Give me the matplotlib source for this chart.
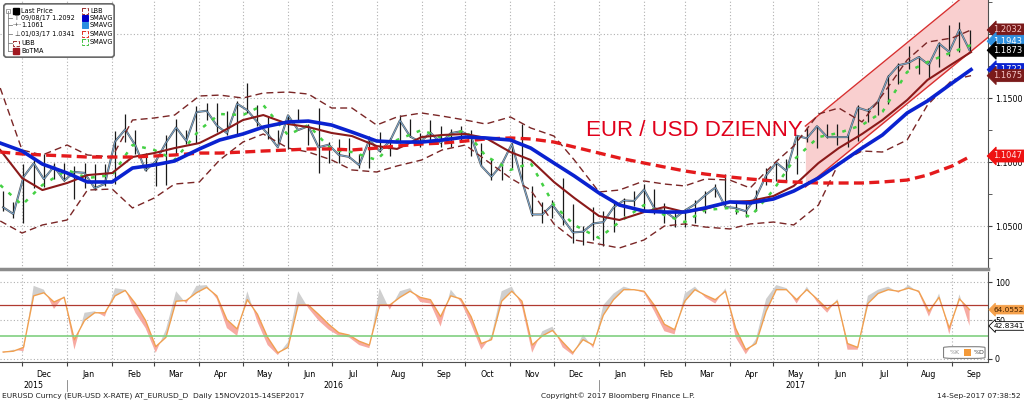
import matplotlib
matplotlib.use("Agg")
import matplotlib.pyplot as plt
import matplotlib.dates as mdates
from matplotlib.patches import FancyBboxPatch, Rectangle
from matplotlib.lines import Line2D
from matplotlib.ticker import MultipleLocator, FixedLocator, NullFormatter, FormatStrFormatter
import numpy as np
import pandas as pd

plt.rcParams['font.family'] = ['DejaVu Sans']

# ---- weekly price bars (one point per week, middle of week) ----
week_dates = pd.date_range('2015-11-18', '2017-09-13', freq='W-WED')
week_high = [1.0770, 1.0690, 1.0981, 1.1043, 1.1060, 1.0990, 1.0990,
             1.0970, 1.0990, 1.0985, 1.0985, 1.1240, 1.1376, 1.1250, 1.1070, 1.1020,
             1.1215, 1.1340, 1.1250, 1.1440, 1.1460, 1.1465, 1.1400, 1.1475, 1.1616,
             1.1445, 1.1350, 1.1250, 1.1370, 1.1415, 1.1300, 1.1425, 1.1160, 1.1180,
             1.1185, 1.1065, 1.1200, 1.1235, 1.1185, 1.1365, 1.1340, 1.1225, 1.1325,
             1.1285, 1.1255, 1.1280, 1.1250, 1.1145, 1.1025, 1.0985, 1.1145, 1.1300,
             1.0810, 1.0690, 1.0700, 1.0875, 1.0670, 1.0500, 1.0650,
             1.0620, 1.0685, 1.0720, 1.0775, 1.0830, 1.0790, 1.0680, 1.0630, 1.0630,
             1.0700, 1.0770, 1.0825, 1.0905, 1.0690, 1.0680, 1.0780, 1.0950, 1.0995,
             1.1020, 1.1210, 1.1268, 1.1285, 1.1295, 1.1295, 1.1220, 1.1445, 1.1425,
             1.1490, 1.1680, 1.1775, 1.1910, 1.1830, 1.1790, 1.1940, 1.2070, 1.2092,
             1.2035]
week_low = [1.0617, 1.0565, 1.0524, 1.0797, 1.0805, 1.0870, 1.0850,
            1.0710, 1.0800, 1.0780, 1.0810, 1.0830, 1.1160, 1.1060, 1.0930, 1.0810,
            1.0820, 1.1060, 1.1140, 1.1145, 1.1330, 1.1235, 1.1215, 1.1215, 1.1385,
            1.1285, 1.1180, 1.1130, 1.1100, 1.1310, 1.1130, 1.0912, 1.0990, 1.0990,
            1.1030, 1.0950, 1.0950, 1.1080, 1.1050, 1.1150, 1.1195, 1.1120, 1.1150,
            1.1120, 1.1120, 1.1160, 1.1050, 1.0975, 1.0860, 1.0860, 1.0955, 1.0850,
            1.0580, 1.0520, 1.0560, 1.0505, 1.0365, 1.0350, 1.0390,
            1.0341, 1.0455, 1.0580, 1.0660, 1.0620, 1.0590, 1.0520, 1.0495, 1.0495,
            1.0525, 1.0600, 1.0730, 1.0650, 1.0590, 1.0570, 1.0620, 1.0820, 1.0850,
            1.0840, 1.0910, 1.1160, 1.1110, 1.1190, 1.1130, 1.1120, 1.1165, 1.1310,
            1.1370, 1.1450, 1.1610, 1.1730, 1.1690, 1.1660, 1.1740, 1.1825, 1.1860,
            1.1870]
week_close = [1.0646, 1.0594, 1.0883, 1.0990, 1.0867, 1.0965, 1.0855,
              1.0922, 1.0915, 1.0795, 1.0830, 1.1160, 1.1255, 1.1130, 1.0935, 1.1005,
              1.1150, 1.1270, 1.1165, 1.1390, 1.1400, 1.1285, 1.1225, 1.1455, 1.1405,
              1.1310, 1.1220, 1.1115, 1.1365, 1.1250, 1.1280, 1.1115, 1.1135, 1.1055,
              1.1040, 1.0975, 1.1175, 1.1085, 1.1160, 1.1325, 1.1200, 1.1155, 1.1230,
              1.1150, 1.1225, 1.1240, 1.1200, 1.0970, 1.0885, 1.0980, 1.1140, 1.0855,
              1.0590, 1.0590, 1.0665, 1.0560, 1.0450, 1.0455, 1.0520,
              1.0530, 1.0645, 1.0700, 1.0695, 1.0785, 1.0640, 1.0615, 1.0560, 1.0620,
              1.0670, 1.0740, 1.0800, 1.0650, 1.0640, 1.0615, 1.0725, 1.0895, 1.0995,
              1.0930, 1.1205, 1.1185, 1.1280, 1.1195, 1.1195, 1.1195, 1.1425, 1.1400,
              1.1470, 1.1665, 1.1755, 1.1775, 1.1820, 1.1760, 1.1925, 1.1860, 1.2035,
              1.1873]

# ---- studies, read twice a month ----
ma_dates = pd.to_datetime([
    '2015-11-16', '2015-12-01', '2015-12-15', '2016-01-01', '2016-01-15', '2016-02-01',
    '2016-02-15', '2016-03-01', '2016-03-15', '2016-04-01', '2016-04-15', '2016-05-01',
    '2016-05-15', '2016-06-01', '2016-06-15', '2016-07-01', '2016-07-15', '2016-08-01',
    '2016-08-15', '2016-09-01', '2016-09-15', '2016-10-01', '2016-10-15', '2016-11-01',
    '2016-11-15', '2016-12-01', '2016-12-15', '2017-01-01', '2017-01-15', '2017-02-01',
    '2017-02-15', '2017-03-01', '2017-03-15', '2017-04-01', '2017-04-15', '2017-05-01',
    '2017-05-15', '2017-06-01', '2017-06-15', '2017-07-01', '2017-07-15', '2017-08-01',
    '2017-08-15', '2017-09-01', '2017-09-14'])
sma50 = [1.1148, 1.1086, 1.0984, 1.0914, 1.0844, 1.0844, 1.0953, 1.0977, 1.1008, 1.1102,
         1.1172, 1.1219, 1.1273, 1.1313, 1.1320, 1.1289, 1.1234, 1.1164, 1.1156, 1.1156,
         1.1172, 1.1195, 1.1188, 1.1172, 1.1109, 1.0992, 1.0891, 1.0758, 1.0664, 1.0617,
         1.0609, 1.0609, 1.0641, 1.0688, 1.0680, 1.0711, 1.0773, 1.0875, 1.0984, 1.1109,
         1.1211, 1.1383, 1.1477, 1.1617, 1.1722]
sma200 = [1.1078, 1.1063, 1.1055, 1.1047, 1.1039, 1.1039, 1.1039, 1.1047, 1.1055, 1.1070,
          1.1070, 1.1078, 1.1086, 1.1094, 1.1102, 1.1102, 1.1094, 1.1109, 1.1125, 1.1141,
          1.1148, 1.1164, 1.1180, 1.1188, 1.1180, 1.1156, 1.1117, 1.1070, 1.1031, 1.0992,
          1.0961, 1.0930, 1.0906, 1.0883, 1.0867, 1.0852, 1.0844, 1.0836, 1.0836, 1.0836,
          1.0844, 1.0859, 1.0898, 1.0969, 1.1047]
botma = [1.1094, 1.0875, 1.0781, 1.0836, 1.0898, 1.0914, 1.1039, 1.1070, 1.1109, 1.1148,
         1.1227, 1.1328, 1.1367, 1.1297, 1.1273, 1.1227, 1.1203, 1.1125, 1.1102, 1.1195,
         1.1211, 1.1219, 1.1188, 1.1078, 1.1016, 1.0844, 1.0719, 1.0578, 1.0547, 1.0609,
         1.0648, 1.0609, 1.0633, 1.0688, 1.0695, 1.0734, 1.0813, 1.0992, 1.1109, 1.1219,
         1.1328, 1.1484, 1.1641, 1.1766, 1.1859]
ubb = [1.1578, 1.1094, 1.1055, 1.1133, 1.1055, 1.1039, 1.1328, 1.1344, 1.1367, 1.1516,
       1.1523, 1.1500, 1.1539, 1.1547, 1.1531, 1.1422, 1.1422, 1.1289, 1.1352, 1.1383,
       1.1359, 1.1328, 1.1297, 1.1352, 1.1266, 1.1203, 1.1016, 1.0766, 1.0781, 1.0852,
       1.0828, 1.0813, 1.0867, 1.0859, 1.0797, 1.0984, 1.1125, 1.1375, 1.1422, 1.1313,
       1.1523, 1.1797, 1.1937, 1.1969, 1.2032]
lbb = [1.0539, 1.0445, 1.0508, 1.0547, 1.0781, 1.0789, 1.0641, 1.0719, 1.0828, 1.0844,
       1.1016, 1.1156, 1.1219, 1.1109, 1.1078, 1.1016, 1.0938, 1.0922, 1.0969, 1.1016,
       1.1094, 1.1133, 1.1016, 1.0875, 1.0781, 1.0516, 1.0391, 1.0359, 1.0328, 1.0391,
       1.0500, 1.0516, 1.0492, 1.0477, 1.0516, 1.0531, 1.0508, 1.0664, 1.0992, 1.1086,
       1.1078, 1.1172, 1.1445, 1.1641, 1.1675]
sma_green = [1.0820, 1.0664, 1.0820, 1.0938, 1.0875, 1.0898, 1.1133, 1.1094, 1.1016, 1.1250,
             1.1375, 1.1367, 1.1445, 1.1211, 1.1289, 1.1094, 1.1078, 1.1016, 1.1172, 1.1250,
             1.1188, 1.1250, 1.1047, 1.0938, 1.0992, 1.0664, 1.0508, 1.0406, 1.0531, 1.0664,
             1.0586, 1.0531, 1.0625, 1.0641, 1.0570, 1.0781, 1.1016, 1.1195, 1.1227, 1.1289,
             1.1391, 1.1703, 1.1781, 1.1859, 1.1914]

# hand drawn trend channel
channel_dates = pd.to_datetime(['2017-05-23', '2017-09-26'])
channel_upper = [1.1281, 1.2453]
channel_lower = [1.0805, 1.1977]

# ---- stochastics (weekly) ----
stoch_d = [9, 10, 15, 82, 86, 74, 80, 25, 50, 60, 60, 82, 89, 72, 50, 16, 28, 75, 76, 86,
           93, 82, 51, 39, 77, 58, 28, 8, 15, 70, 70, 58, 45, 34, 31, 23, 18, 70, 70, 80,
           88, 80, 77, 55, 82, 78, 55, 20, 25, 75, 88, 75, 18, 30, 37, 22, 8, 25, 18, 57,
           77, 90, 90, 88, 70, 45, 38, 75, 90, 83, 77, 88, 40, 12, 20, 62, 90, 90, 77, 90,
           78, 65, 75, 20, 15, 72, 85, 90, 88, 92, 88, 62, 80, 40, 78, 64.0552]
stoch_k = [8, 12, 10, 95, 90, 65, 82, 12, 60, 62, 55, 92, 90, 60, 40, 8, 38, 88, 72, 95,
           96, 78, 40, 30, 88, 48, 18, 5, 22, 88, 66, 50, 38, 30, 28, 18, 14, 92, 64, 88,
           92, 74, 72, 42, 90, 74, 45, 12, 30, 88, 94, 68, 8, 36, 42, 15, 5, 32, 14, 70,
           85, 94, 90, 86, 62, 36, 32, 85, 94, 80, 72, 92, 28, 6, 26, 78, 96, 92, 72, 94,
           74, 60, 78, 12, 12, 82, 90, 94, 86, 96, 86, 55, 85, 32, 84, 42.8341]

month_starts = pd.date_range('2015-12-01', '2017-09-01', freq='MS')
month_centers = month_starts + pd.Timedelta(days=15)

fig = plt.figure(figsize=(10.24, 4.01), dpi=100)
W, H = 1024.0, 401.0
ax = fig.add_axes([0, 1 - 269 / H, 988 / W, 269 / H])
ax2 = fig.add_axes([0, 1 - 362 / H, 988 / W, 90 / H], sharex=ax)

x0 = pd.Timestamp('2015-11-15 20:00')
x1 = pd.Timestamp('2017-09-25 16:00')
ax.set_xlim(x0, x1)
ax.set_ylim(1.0164, 1.2266)
ax2.set_ylim(-4, 113)

small = 5.4
grid_kw = dict(color='#b0b0b0', linestyle=(0, (1, 2)), linewidth=0.8)
for a in (ax, ax2):
    a.xaxis.set_major_locator(FixedLocator(mdates.date2num(month_starts)))
    a.grid(True, which='major', **grid_kw)
    a.set_axisbelow(True)
    a.yaxis.tick_right()
    for s in ('left', 'top'):
        a.spines[s].set_visible(False)
    a.spines['right'].set_color('#505050')

# trend channel
ax.fill_between(channel_dates, channel_lower, channel_upper, color='#f9cfcf', lw=0, zorder=1)
ax.plot(channel_dates, channel_upper, color='#d83030', lw=1.0, zorder=2)
ax.plot(channel_dates, channel_lower, color='#d83030', lw=1.0, zorder=2)

# price bars
ax.plot(week_dates, week_close, color='#5a5a5a', lw=1.5, zorder=3)
ax.vlines(week_dates, week_low, week_high, color='#1a1a1a', lw=0.9, zorder=3)
ax.plot(week_dates, week_close, color='#7fb2e0', lw=0.6, zorder=4)

# studies
ax.plot(ma_dates, ubb, color='#7a2626', lw=1.0, dashes=(5, 3), zorder=5)
ax.plot(ma_dates, lbb, color='#7a2626', lw=1.0, dashes=(5, 3), zorder=5)
ax.plot(ma_dates, sma_green, color='#44d044', lw=1.8, dashes=(1.5, 3), zorder=5)
ax.plot(ma_dates, botma, color='#8b1a1a', lw=1.5, zorder=6)
ax.plot(ma_dates, sma200, color='#e41a1c', lw=2.4, dashes=(3, 1.6), zorder=6)
ax.plot(ma_dates, sma50, color='#0a22d0', lw=2.6, zorder=7)

ax.text(pd.Timestamp('2016-12-23'), 1.1250, 'EUR / USD DZIENNY', color='#e0001b',
        fontsize=16, family='Liberation Sans', va='center', ha='left', zorder=8)

ax.yaxis.set_major_locator(MultipleLocator(0.05))
ax.yaxis.set_minor_locator(MultipleLocator(0.025))
ax.yaxis.set_major_formatter(FormatStrFormatter('%.4f'))
ax.tick_params(axis='y', which='both', direction='out', length=3, labelsize=small + 0.3,
               pad=2, color='#404040')
ax.tick_params(axis='x', which='both', bottom=False, labelbottom=False)
ax.spines['bottom'].set_color('#8c8c8c')
ax.spines['bottom'].set_linewidth(2.5)

# stochastics panel
k = np.array(stoch_k, dtype=float)
d = np.array(stoch_d, dtype=float)
ax2.fill_between(week_dates, k, d, where=k >= d, interpolate=True, color='#cfcfcf', lw=0)
ax2.fill_between(week_dates, k, d, where=k < d, interpolate=True, color='#f7aaa2', lw=0)
ax2.plot(week_dates, d, color='#f0a050', lw=1.0)
ax2.axhline(70, color='#b03a30', lw=0.9)
ax2.axhline(30, color='#80d080', lw=1.2)
ax2.set_yticks([0, 50, 100])
ax2.yaxis.set_major_formatter(FormatStrFormatter('%d'))
ax2.tick_params(axis='y', direction='out', length=3, labelsize=small + 0.3, pad=2,
                color='#404040')
ax2.spines['top'].set_visible(False)
ax2.spines['bottom'].set_color('#505050')

ax2.xaxis.set_minor_locator(FixedLocator(mdates.date2num(month_centers)))
ax2.xaxis.set_minor_formatter(mdates.DateFormatter('%b'))
ax2.xaxis.set_major_formatter(NullFormatter())
ax2.tick_params(axis='x', which='major', direction='out', length=3, color='#404040')
ax2.tick_params(axis='x', which='minor', length=0, labelsize=small + 0.3, pad=6)

lg = FancyBboxPatch((0.955, 0.04), 0.042, 0.13, boxstyle='round,pad=0,rounding_size=0.01',
                    transform=ax2.transAxes, fc='white', ec='#808080', lw=0.8, zorder=9)
ax2.add_patch(lg)
ax2.text(0.961, 0.105, '%K', transform=ax2.transAxes, fontsize=4.5, color='#909090',
         va='center', zorder=10)
ax2.add_patch(Rectangle((0.976, 0.07), 0.007, 0.07, transform=ax2.transAxes,
                        fc='#f39a3a', ec='none', zorder=10))
ax2.text(0.985, 0.105, '%D', transform=ax2.transAxes, fontsize=4.5, color='#404040',
         va='center', zorder=10)


def tag(a, value, text, face, fg, edge=None, size=6.0):
    a.annotate(text, xy=(1, value), xycoords=('axes fraction', 'data'),
               xytext=(4.0, 0), textcoords='offset points', va='center', ha='left',
               fontsize=size, color=fg, annotation_clip=False, zorder=20,
               bbox=dict(boxstyle='larrow,pad=0.18', fc=face, ec=edge or face, lw=0.6))


tag(ax, 1.1722, '1.1722', '#0a22d0', 'white')
tag(ax, 1.1675, '1.1675', '#7a1a1a', '#f4c4c4')
tag(ax, 1.2032, '1.2032', '#7a1a1a', '#f4c4c4')
tag(ax, 1.1943, '1.1943', '#2f90e0', 'white')
tag(ax, 1.1873, '1.1873', '#000000', 'white')
tag(ax, 1.1047, '1.1047', '#ee1111', '#ffe4e4')
tag(ax2, 64.0552, '64.0552', '#f5a04a', '#402000', size=5.3)
tag(ax2, 42.8341, '42.8341', 'white', 'black', '#000000', size=5.3)

# legend box, drawn in pixel units
lax = fig.add_axes([3 / W, 1 - 58 / H, 112 / W, 55 / H])
lax.set_xlim(0, 112)
lax.set_ylim(55, 0)
lax.axis('off')
lax.add_patch(FancyBboxPatch((0.8, 0.8), 110.4, 53.4, boxstyle='round,pad=0,rounding_size=3',
                             fc='white', ec='#6a6a6a', lw=1.3))
fs = 4.7
rows = [8, 15, 22, 31, 40, 48]
lax.plot([4.5, 4.5], [8, 48], color='#808080', lw=0.6)
for r in rows[1:]:
    lax.plot([4.5, 9], [r, r], color='#808080', lw=0.6)
lax.add_patch(Rectangle((2.5, 6), 4, 4, fc='white', ec='#808080', lw=0.5))
lax.add_patch(Rectangle((10, 5.2), 5.5, 5.5, fc='black', ec='black'))
lax.text(18, 8, 'Last Price', fontsize=fs, va='center')
lax.text(11, 15, 'T', fontsize=fs, va='center', color='#404040')
lax.text(18, 15, '09/08/17 1.2092', fontsize=fs, va='center')
lax.text(10, 22, '-+-', fontsize=fs - 0.5, va='center', color='#404040')
lax.text(18, 22, '1.1061', fontsize=fs, va='center')
lax.text(11, 31, '\u22a5', fontsize=fs, va='center', color='#404040')
lax.text(18, 31, '01/03/17 1.0341', fontsize=fs, va='center')
lax.add_patch(Rectangle((10, 37.5), 5.5, 5, fc='white', ec='#9a3030', lw=0.7, ls='--'))
lax.text(18, 40, 'UBB', fontsize=fs, va='center')
lax.add_patch(Rectangle((10, 45.2), 5.5, 5.5, fc='#a01820', ec='#a01820'))
lax.text(18, 48, 'BoTMA', fontsize=fs, va='center')
col2 = [('LBB', 'white', '#9a3030', '--'), ('SMAVG', '#0000c8', '#0000c8', '-'),
        ('SMAVG', '#2a8ee0', '#2a8ee0', '-'), ('SMAVG', 'white', '#e03020', '--'),
        ('SMAVG', 'white', '#40c040', '--')]
for (name, fc, ec, ls), r in zip(col2, [8, 15, 22, 31, 39]):
    lax.add_patch(Rectangle((79, r - 2.7), 5.5, 5.5, fc=fc, ec=ec, lw=0.7, ls=ls))
    lax.text(87, r, name, fontsize=fs, va='center')

# year labels and footer
fig.text(33 / W, 1 - 385 / H, '2015', fontsize=small + 0.3, ha='center', va='center')
fig.text(333 / W, 1 - 385 / H, '2016', fontsize=small + 0.3, ha='center', va='center')
fig.text(795 / W, 1 - 385 / H, '2017', fontsize=small + 0.3, ha='center', va='center')
for xp in (67, 599):
    fig.add_artist(Line2D([xp / W, xp / W], [1 - 380 / H, 1 - 391 / H], color='#808080', lw=0.6))
fig.text(2 / W, 1 - 396 / H, 'EURUSD Curncy (EUR-USD X-RATE) AT_EURUSD_D  Daily 15NOV2015-14SEP2017',
         fontsize=small, ha='left', va='center', color='#202020')
fig.text(541 / W, 1 - 396 / H, 'Copyright\u00a9 2017 Bloomberg Finance L.P.',
         fontsize=small, ha='left', va='center', color='#202020')
fig.text(1021 / W, 1 - 396 / H, '14-Sep-2017 07:38:52',
         fontsize=small, ha='right', va='center', color='#202020')

fig.savefig('out.png', dpi=100)
